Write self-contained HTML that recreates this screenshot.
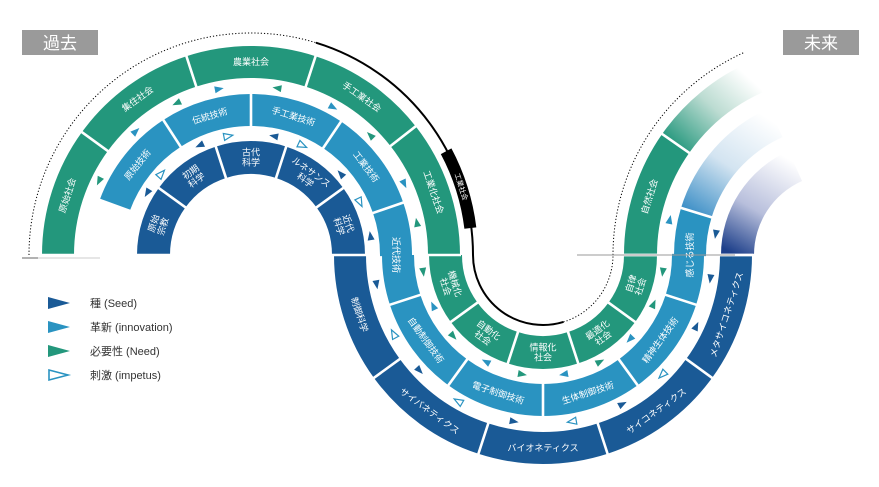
<!DOCTYPE html>
<html><head><meta charset="utf-8">
<style>
html,body{margin:0;padding:0;background:#fff;width:879px;height:487px;overflow:hidden}
svg{display:block}
text{font-family:"Liberation Sans","Noto Sans CJK JP",sans-serif}
</style></head>
<body>
<svg id="s" width="879" height="487" viewBox="0 0 879 487" xmlns="http://www.w3.org/2000/svg">
<defs>
<linearGradient id="gG" gradientUnits="userSpaceOnUse" x1="666" y1="140" x2="735" y2="65">
<stop offset="0" stop-color="#23977c"/><stop offset="0.55" stop-color="#bcdcd2"/><stop offset="1" stop-color="#fff"/></linearGradient>
<linearGradient id="gL" gradientUnits="userSpaceOnUse" x1="688" y1="212" x2="755" y2="110">
<stop offset="0" stop-color="#3b8ec6"/><stop offset="0.5" stop-color="#d3e4f1"/><stop offset="1" stop-color="#fff"/></linearGradient>
<linearGradient id="gD" gradientUnits="userSpaceOnUse" x1="735" y1="255" x2="790" y2="160">
<stop offset="0" stop-color="#1d3f8a"/><stop offset="0.45" stop-color="#b8bfdc"/><stop offset="1" stop-color="#fff"/></linearGradient>
</defs>
<g id="rings"></g>
<g id="lines"></g>
<g id="arrows"></g>
<g id="labels" fill="#fff" font-size="9"></g>
<rect x="22" y="30" width="76" height="25" fill="#9a9a9a"/>
<text x="60" y="49" fill="#fff" font-size="17" text-anchor="middle">過去</text>
<rect x="783" y="30" width="76" height="25" fill="#9a9a9a"/>
<text x="821" y="49" fill="#fff" font-size="17" text-anchor="middle">未来</text>
<polygon points="48,297 70,303 48,309" fill="#1a5a96"/>
<text x="90" y="307" font-size="11" fill="#333">種 (Seed)</text>
<polygon points="48,321 70,327 48,333" fill="#2a93c1"/>
<text x="90" y="331" font-size="11" fill="#333">革新 (innovation)</text>
<polygon points="48,345 70,351 48,357" fill="#23977c"/>
<text x="90" y="355" font-size="11" fill="#333">必要性 (Need)</text>
<polygon points="49,370 68,375 49,380" fill="none" stroke="#2a93c1" stroke-width="1.6"/>
<text x="90" y="379" font-size="11" fill="#333">刺激 (impetus)</text>
<line x1="22" y1="258" x2="38" y2="258" stroke="#666" stroke-width="1"/>
<line x1="38" y1="258" x2="100" y2="258" stroke="#ccc" stroke-width="1"/>
<line x1="577" y1="255" x2="735" y2="255" stroke="#999" stroke-width="1"/>
</svg>
<script>
var NS="http://www.w3.org/2000/svg";
var D="#1a5a96",Lb="#2a93c1",G="#23977c";
var L=[251,255],M=[543,255],T=[835,255];
function P(c,r,a){a=a*Math.PI/180;return [c[0]+r*Math.cos(a),c[1]+r*Math.sin(a)];}
function f(p){return p[0].toFixed(2)+","+p[1].toFixed(2);}
function sec(c,r1,r2,a1,a2){var lg=(a2-a1)>180?1:0;
return "M"+f(P(c,r2,a1))+"A"+r2+","+r2+" 0 "+lg+" 1 "+f(P(c,r2,a2))+"L"+f(P(c,r1,a2))+"A"+r1+","+r1+" 0 "+lg+" 0 "+f(P(c,r1,a1))+"Z";}
function el(tag,at,parent){var e=document.createElementNS(NS,tag);for(var k in at)e.setAttribute(k,at[k]);document.getElementById(parent).appendChild(e);return e;}
function S(c,r1,r2,a1,a2,col){el("path",{d:sec(c,r1,r2,a1,a2),fill:col},"rings");}
function B(c,r1,r2,a){var p1=P(c,r1-1,a),p2=P(c,r2+1,a);el("line",{x1:p1[0],y1:p1[1],x2:p2[0],y2:p2[1],stroke:"#fff","stroke-width":2.6},"lines");}
function lab(c,r,a,rot,txt,fs){var p=P(c,r,a);var lines=txt.split("|");fs=fs||9;
var t=el("text",{x:0,y:0,"text-anchor":"middle","font-size":fs,transform:"translate("+p[0].toFixed(1)+","+p[1].toFixed(1)+") rotate("+rot+")"},"labels");
var n=lines.length;for(var i=0;i<n;i++){var ts=document.createElementNS(NS,"tspan");ts.setAttribute("x",0);ts.setAttribute("y",((i-(n-1)/2)*fs*1.1+fs*0.35).toFixed(1));ts.textContent=lines[i];t.appendChild(ts);}}
function up(c,r1,r2,a1,a2,col,txt){S(c,r1,r2,a1,a2,col);if(txt){var m=(a1+a2)/2;lab(c,(r1+r2)/2,m,m+90,txt);}}
function dn(c,r1,r2,a1,a2,col,txt){S(c,r1,r2,a1,a2,col);if(txt){var m=(a1+a2)/2;lab(c,(r1+r2)/2,m,m-90,txt);}}
var dL=[[180,216,"原始|宗教"],[216,252,"初期|科学"],[252,288,"古代|科学"],[288,324,"ルネサンス|科学"],[324,360,"近代|科学"]];
dL.forEach(function(s){up(L,81,114,s[0],s[1],D,s[2]);B(L,81,114,s[0]);});B(L,81,114,360);
var lL=[[200,237,"原始技術"],[237,270,"伝統技術"],[270,304,"手工業技術"],[304,341,"工業技術"]];
lL.forEach(function(s){up(L,129,161,s[0],s[1],Lb,s[2]);B(L,129,161,s[0]);});B(L,129,161,341);
S(L,129,161,341,360.5,Lb);
var gL=[[180,216,"原始社会"],[216,252,"集住社会"],[252,288,"農業社会"],[288,322,"手工業社会"],[322,360,"工業化社会"]];
gL.forEach(function(s){up(L,177,209,s[0],s[1],G,s[2]);B(L,177,209,s[0]);});B(L,177,209,360);
var dM=[[144,180,"制御科学"],[108,144,"サイバネティクス"],[72,108,"バイオネティクス"],[36,72,"サイコネティクス"],[0,36,"メタサイコネティクス"]];
dM.forEach(function(s){dn(M,177,209,s[0],s[1],D,s[2]);B(M,177,209,s[0]);});
var lM=[[126,162,"自動制御技術"],[90,126,"電子制御技術"],[54,90,"生体制御技術"],[18,54,"精神生体技術"]];
S(M,129,161,161.5,180,Lb);
lM.forEach(function(s){dn(M,129,161,s[0],s[1],Lb,s[2]);B(M,129,161,s[0]);});B(M,129,161,162);
S(M,129,161,-0.5,18,Lb);
lab(L,145,360,90,"近代技術");
var gM=[[144,180,"機械化|社会"],[108,144,"自動化|社会"],[72,108,"情報化|社会"],[36,72,"最適化|社会"],[0,36,"自律|社会"]];
gM.forEach(function(s){dn(M,81,114,s[0],s[1],G,s[2]);B(M,81,114,s[0]);});B(M,81,114,0);
up(T,178,211,180,215,G,"自然社会");B(T,178,211,215);
el("path",{d:sec(T,178,211,215,246),fill:"url(#gG)"},"rings");
S(T,129,161,179.5,197,Lb);B(T,129,161,197);
lab(T,145,180,-90,"感じる技術");
el("path",{d:sec(T,129,161,197,246),fill:"url(#gL)"},"rings");
el("path",{d:sec(T,81,114,180,246),fill:"url(#gD)"},"rings");
B(T,81,114,180);
function arc(c,r,a1,a2,sw){var p1=P(c,r,a1),p2=P(c,r,a2);return "M"+f(p1)+"A"+r+","+r+" 0 0 "+sw+" "+f(p2);}
el("path",{d:arc(L,222,180,287,1),fill:"none",stroke:"#000","stroke-width":1,"stroke-dasharray":"1.2 2"},"lines");
el("path",{d:arc(L,222,287,360,1),fill:"none",stroke:"#000","stroke-width":2},"lines");
el("path",{d:arc(L,221,332,353,1),fill:"none",stroke:"#000","stroke-width":12},"lines");
el("path",{d:arc(M,70,180,73,0),fill:"none",stroke:"#000","stroke-width":2},"lines");
el("path",{d:arc(M,70,73,0,0),fill:"none",stroke:"#000","stroke-width":1,"stroke-dasharray":"1.2 2"},"lines");
el("path",{d:arc(T,222,180,246,1),fill:"none",stroke:"#000","stroke-width":1,"stroke-dasharray":"1.2 2"},"lines");
lab(L,221,342,72,"工業社会",7);
function arrow(c,r,a,dir,type){var p=P(c,r,a);var rot=a+90*dir;
var col=type==0?D:(type==1?Lb:G);
var at={points:"-4,-3.5 5,0 -4,3.5",transform:"translate("+p[0].toFixed(1)+","+p[1].toFixed(1)+") rotate("+rot+")"};
if(type==3){at.fill="none";at.stroke=Lb;at["stroke-width"]=1.2;}else at.fill=col;
el("polygon",at,"arrows");}
var inner=[[211,0],[222,3],[245,0],[259,3],[281,0],[295,3],[318,0],[334,3],[351,0]];
inner.forEach(function(x,i){arrow(L,121,x[0],i%2?1:-1,x[1]);});
var outer=[[206,2],[227,1],[244,2],[259,1],[279,2],[299,1],[315,2],[335,1],[349,2]];
outer.forEach(function(x,i){arrow(L,169,x[0],i%2?1:-1,x[1]);});
var mo=[[170,0],[152,3],[137,0],[120,3],[100,0],[80,3],[62,0],[45,3],[25,0],[8,0]];
mo.forEach(function(x,i){arrow(M,169,x[0],i%2?1:-1,x[1]);});
var mi=[[172,2],[155,1],[138,2],[118,1],[100,2],[80,1],[62,2],[44,1],[24,2],[8,2]];
mi.forEach(function(x,i){arrow(M,121,x[0],i%2?1:-1,x[1]);});
arrow(T,169,192,1,1);arrow(T,121,190,-1,0);
</script>
</body></html>
